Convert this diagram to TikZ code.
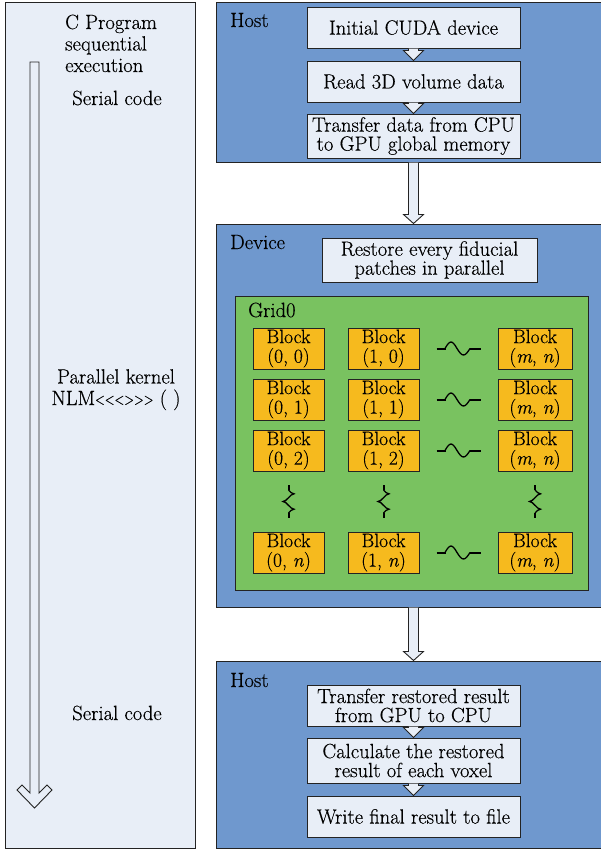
\documentclass[tikz,border=0pt]{standalone}
\usepackage{fontspec}
\setmainfont{Latin Modern Roman}[FakeBold=0.35]
\usepackage{graphicx}
\usetikzlibrary{calc}
\definecolor{panelbg}{RGB}{232,238,247}
\definecolor{hostblue}{RGB}{111,152,206}
\definecolor{gridgreen}{RGB}{121,194,96}
\definecolor{blockorange}{RGB}{246,186,30}
\definecolor{edge}{RGB}{35,35,35}
\newcommand{\fs}{\fontsize{20.6}{19}\selectfont}
\newcommand{\fsb}{\fontsize{19.5}{19.5}\selectfont}
\newcommand{\fsl}{\fontsize{20.6}{21.5}\selectfont}
\newcommand{\fatarrow}[5]{%
  \draw[fat] let \p1=(#1), \p2=(#2) in
    (\x2-#3,\y1) -- (\x2-#3,\y2+#5) -- (\x2-#4,\y2+#5) -- (\x2,\y2)
    -- (\x2+#4,\y2+#5) -- (\x2+#3,\y2+#5) -- (\x2+#3,\y1);}
\tikzset{
  panel/.style={draw=edge, line width=1pt, inner sep=0pt},
  box/.style={draw=edge, fill=panelbg, line width=1pt, inner sep=0pt, align=center, font=\fs, minimum width=213pt},
  blk/.style={draw=edge, fill=blockorange, line width=1pt, inner sep=0pt, align=center, font=\fsb, minimum height=41pt},
  lbl/.style={anchor=base west, inner sep=0pt, font=\fs},
  fat/.style={draw=edge, fill=panelbg, line width=0.9pt, line join=miter},
  wave/.style={draw=black, line width=1.3pt},
  tick/.style={draw=black, line width=2pt},
  hsquig/.pic={
    \draw[tick] (-22,0) -- (-13,0) (11.5,0) -- (22,0);
    \draw[wave] (-13.5,0) sin (-7.5,-6.5) cos (-1.5,0) sin (5,6.5) cos (11.5,0);},
  vsquig/.pic={
    \draw[tick] (0,-16.5) -- (0,-11.5) (0,11.5) -- (0,16.5);
    \draw[wave] (0,-11.5) sin (5.5,-7.67) cos (0,-3.83) sin (-5.5,0) cos (0,3.83) sin (5.5,7.67) cos (0,11.5);}
}
\newcommand{\ltgt}{\raisebox{0.5pt}{\scalebox{0.62}[0.8]{<{}<{}<{}>{}>{}>}}}
\begin{document}
\begin{tikzpicture}[x=1pt,y=-1pt]
\useasboundingbox (0,0) rectangle (601,849);
% panels
\node[panel, fill=panelbg, minimum width=190pt, minimum height=846pt] (left) at (100,425) {};
\node[panel, fill=hostblue, minimum width=386pt, minimum height=160pt] (host1) at (409,82) {};
\node[panel, fill=hostblue, minimum width=386pt, minimum height=383pt] (device) at (409,415.5) {};
\node[panel, fill=gridgreen, minimum width=353pt, minimum height=294pt] (grid) at (411.5,443) {};
\node[panel, fill=hostblue, minimum width=386pt, minimum height=187pt] (host2) at (409,754.5) {};
% left panel texts (base anchor = last line)
\node[anchor=base west, inner sep=0pt, align=left, font=\fsl] (ctitle) at (65,72) {C Program\\sequential\\execution};
\node[anchor=base, inner sep=0pt, font=\fs] (serial1) at (117,105) {Serial code};
\node[anchor=base, inner sep=0pt, align=center, font=\fsl] (kernel) at (116,405) {Parallel kernel\\NLM\ltgt\ ( )};
\node[anchor=base, inner sep=0pt, font=\fs] (serial2) at (117,720) {Serial code};
% left long arrow
\coordinate (ltop) at (34.5,62);
\coordinate (ltip) at (34.5,808);
\draw[fat] ($(ltop)+(-4.5,0)$) -- ($(ltip)+(-4.5,-15)$) -- ($(ltip)+(-12.5,-23)$) -- ($(ltip)+(-17.5,-18)$) -- (ltip)
  -- ($(ltip)+(17.5,-18)$) -- ($(ltip)+(12.5,-23)$) -- ($(ltip)+(4.5,-15)$) -- ($(ltop)+(4.5,0)$) -- cycle;
% labels
\node[lbl] (lhost1) at (230,27) {Host};
\node[lbl] (ldevice) at (230,249) {Device};
\node[lbl] (lgrid) at (248,317) {Grid0};
\node[lbl] (lhost2) at (230,687) {Host};
% host 1 boxes
\node[box, minimum height=41pt] (b1) at (413.5,27.5) {Initial CUDA device};
\node[box, minimum height=41pt] (b2) at (413.5,81.5) {Read 3D volume data};
\node[box, minimum height=44pt] (b3) at (413.5,136) {Transfer data from CPU\\to GPU global memory};
% device
\node[box, minimum width=215pt, minimum height=44pt] (restore) at (429.5,260) {Restore every fiducial\\patches in parallel};
% blocks
\foreach \c/\cx in {0/288.5, 1/383.5}{
  \foreach \r/\ry/\rl in {0/348.5/0, 1/399.5/1, 2/450.5/2, n/552.5/\textit{n}}{
    \node[blk, minimum width=71pt] (b\c\r) at (\cx,\ry) {Block\\(\c, \rl)};
  }
}
\foreach \r/\ry in {0/348.5, 1/399.5, 2/450.5, n/552.5}{
  \node[blk, minimum width=74pt] (bm\r) at (535,\ry) {Block\\(\textit{m}, \textit{n})};
}
% squiggles
\foreach \r in {0,1,2,n}{
  \path ($(b1\r.east)!0.5!(bm\r.west)$) pic {hsquig};
}
\foreach \c in {0,1,m}{
  \path ($(b\c2.south)!0.5!(b\c n.north)$) pic {vsquig};
}
% host 2 boxes
\node[box, minimum height=41pt] (b4) at (413.5,705.5) {Transfer restored result\\from GPU to CPU};
\node[box, minimum height=45pt] (b5) at (413.5,760.5) {Calculate the restored\\result of each voxel};
\node[box, minimum height=41pt] (b6) at (413.5,816.5) {Write final result to file};
% arrows
\fatarrow{b1.south}{b2.north}{5pt}{10pt}{10pt}
\fatarrow{b2.south}{b3.north}{5pt}{10pt}{10pt}
\fatarrow{b4.south}{b5.north}{5pt}{10pt}{10pt}
\fatarrow{b5.south}{b6.north}{5pt}{10pt}{10pt}
\fatarrow{b3.south |- host1.south}{b3.south |- device.north}{5pt}{10pt}{9pt}
\fatarrow{b3.south |- device.south}{b3.south |- host2.north}{5pt}{10pt}{9pt}
\end{tikzpicture}
\end{document}
